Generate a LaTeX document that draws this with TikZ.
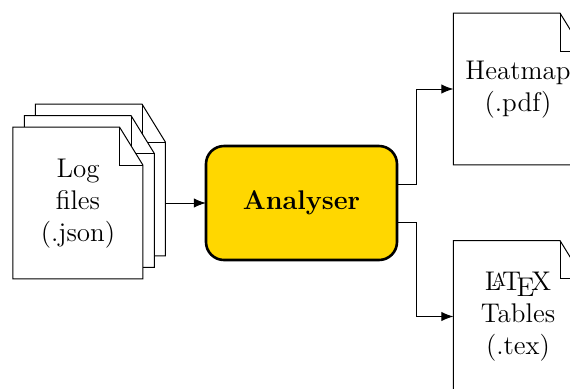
\documentclass[tikz,border=0pt]{standalone}
\usetikzlibrary{arrows.meta,calc}
\tikzset{
  px/.style={x=0.5pt,y=-0.5pt},
  docbox/.style={minimum width=65pt,minimum height=75.8pt,inner sep=0pt,outer sep=0pt},
  doctext/.style={align=center,font=\fontsize{13.5}{16}\selectfont},
  docline/.style={line width=0.5pt,fill=white,line join=miter},
  conn/.style={line width=0.5pt,-{Latex[length=6pt,width=4.6pt]}},
  proc/.style={draw=black,line width=1.3pt,rounded corners=9pt,minimum width=95.5pt,minimum height=57pt,inner sep=0pt,outer sep=0pt,font=\fontsize{13.5}{16}\selectfont\bfseries},
}
\definecolor{gold}{HTML}{FFD700}
\newcommand{\docoutline}[1]{%
  \draw[docline] (#1.north west) -- ($(#1.north east)+(-11.7pt,0)$) -- ($(#1.north east)+(0,-19pt)$) -- (#1.south east) -- (#1.south west) -- cycle;
  \draw[docline,fill=none] ($(#1.north east)+(-11.7pt,0)$) -- ($(#1.north east)+(-11.7pt,-19pt)$) -- ($(#1.north east)+(0,-19pt)$);
}
\begin{document}
\begin{tikzpicture}[px]
\useasboundingbox (0,0) rectangle (570,388);
\clip (0,0) rectangle (570,388);
\node[docbox] (logc) at (100.5,180) {};
\docoutline{logc}
\node[docbox] (logb) at (89.5,191.5) {};
\docoutline{logb}
\node[docbox] (loga) at (78,203) {};
\docoutline{loga}
\node[doctext] (logt) at (78,204) {Log\\files\\(.json)};
\node[proc,fill=gold] (an) at (301.5,203) {\raisebox{-0.8pt}{Analyser}};
\node[docbox] (heat) at (518.5,89) {};
\docoutline{heat}
\node[doctext] (heatt) at (518,89.5) {Heatmap\\(.pdf)};
\node[docbox] (tab) at (518.5,316.5) {};
\docoutline{tab}
\node[doctext] (tabt) at (518,317) {\LaTeX\\Tables\\(.tex)};
\draw[conn] (logc.east |- an.west) -- (an.west);
\draw[conn] ($(an.east)+(0,9.5pt)$) -- ++(10pt,0) |- (heat.west);
\draw[conn] ($(an.east)+(0,-9.5pt)$) -- ++(10pt,0) |- (tab.west);
\end{tikzpicture}
\end{document}
